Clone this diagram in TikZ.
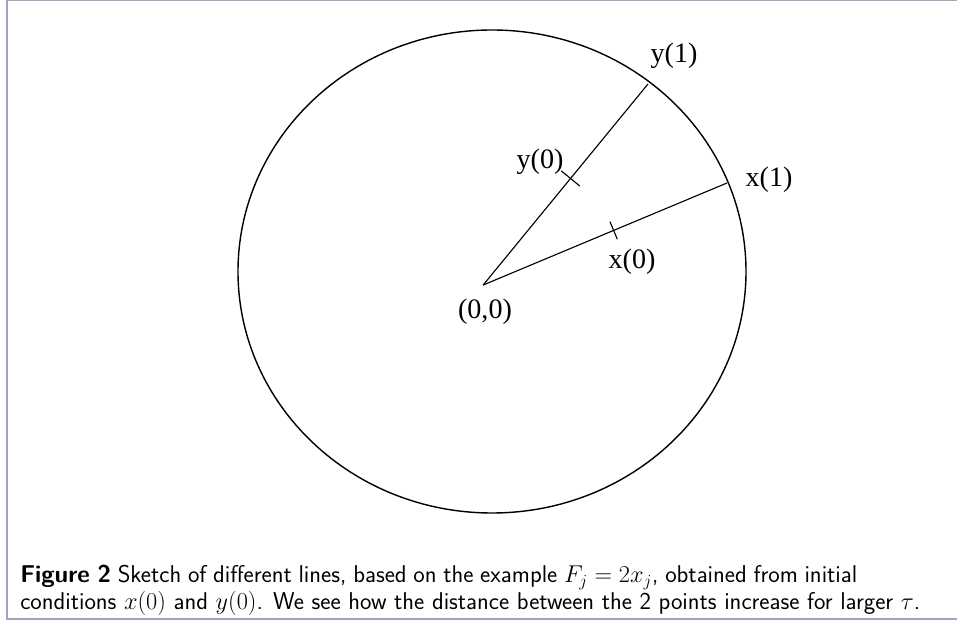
\documentclass[tikz,border=0pt]{standalone}
\usepackage[no-math]{fontspec}
\newfontfamily\labelfont{Liberation Serif}
\usetikzlibrary{positioning,calc}
\definecolor{framegray}{RGB}{160,164,192}

\begin{document}
\begin{tikzpicture}[
  lbl/.style={font=\labelfont\fontsize{20}{24}\selectfont,inner sep=0pt},
  ray/.style={line width=0.8pt},
  tickmark/.style={line width=0.8pt},
  caption/.style={font=\sffamily\fontsize{17.3}{16.6}\selectfont,align=left,inner sep=0pt}
]
  \useasboundingbox (0,0) rectangle (23.925,15.7);
  \draw[framegray,line width=1pt] (23.925,15.68) -- (0.175,15.68) -- (0.175,0.225) -- (23.925,0.225);
  % the circle
  \draw[line width=1pt] (12.3,8.9125) ellipse [x radius=6.35, y radius=6.0375];
  \coordinate (O) at (12.08,8.575);
  \coordinate (y1) at (16.2,13.6);
  \coordinate (x1) at (18.175,11.125);
  \draw[ray] (O) -- coordinate[pos=0.53] (y0) (y1);
  \draw[ray] (O) -- coordinate[pos=0.535] (x0) (x1);
  \draw[tickmark] ($(y0)!0.3cm!90:(y1)$) -- ($(y0)!0.3cm!-90:(y1)$);
  \draw[tickmark] ($(x0)!0.24cm!90:(x1)$) -- ($(x0)!0.24cm!-90:(x1)$);
  % labels
  \node[lbl] (origin) at (12.125,7.9) {(0,0)};
  \node[lbl] (xzero) at (15.8,9.15) {x(0)};
  \node[lbl] (xone) at (19.225,11.2) {x(1)};
  \node[lbl] (yzero) at (13.5,11.65) {y(0)};
  \node[lbl] (yone) at (16.85,14.3) {y(1)};
  \node[caption,anchor=north west] (cap) at (0.5,1.58)
    {\makebox[20.925cm][s]{\textbf{Figure 2} Sketch of different lines, based on the example $F_j = 2x_j$, obtained from initial}\\
     conditions $x(0)$ and $y(0)$. We see how the distance between the 2 points increase for larger $\tau$.};
\end{tikzpicture}
\end{document}
